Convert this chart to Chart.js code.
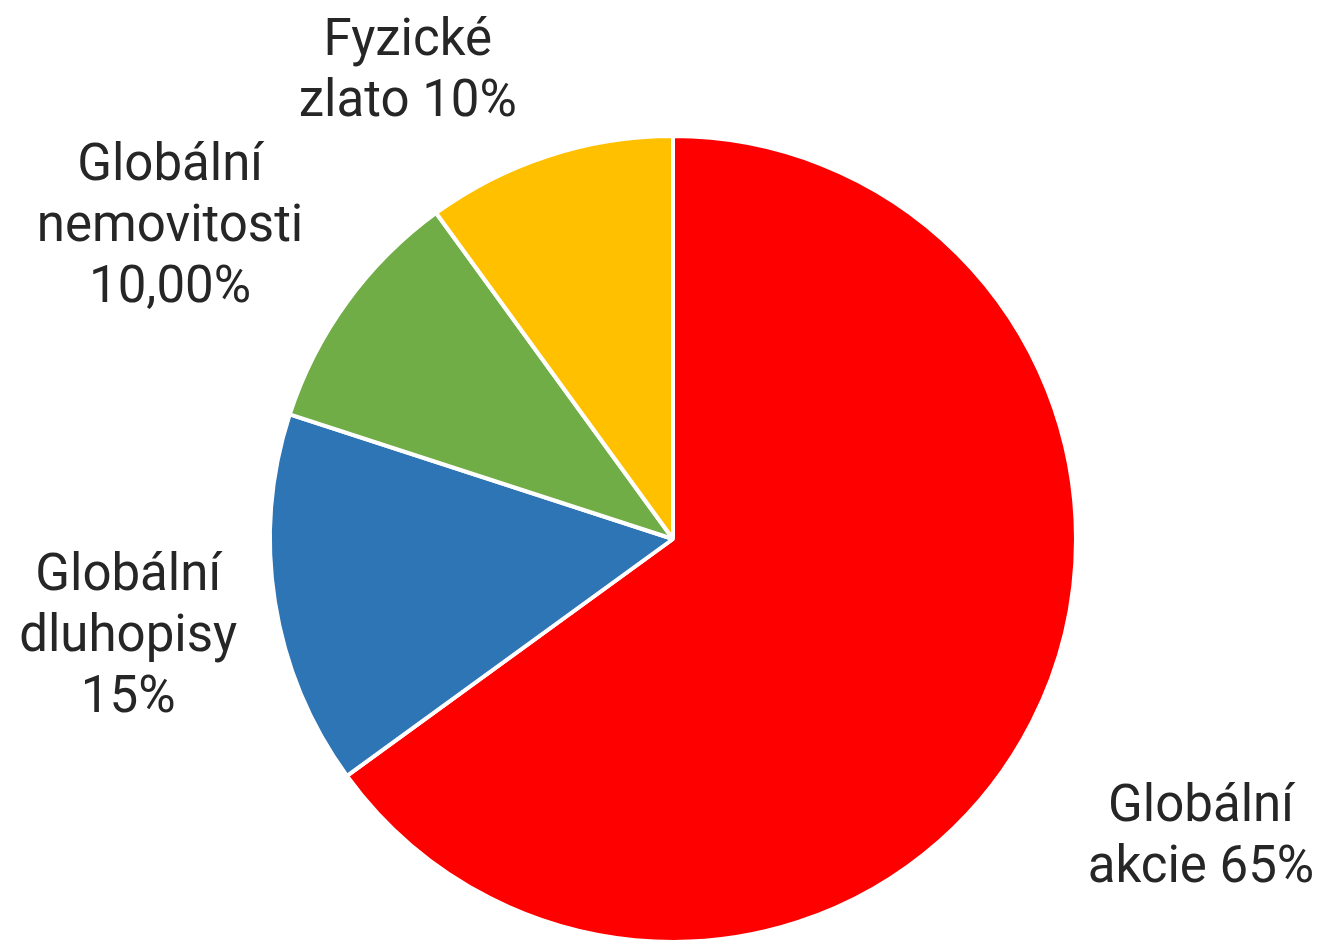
<!DOCTYPE html>
<html>
<head>
<meta charset="utf-8">
<script src="https://cdn.jsdelivr.net/npm/chart.js@4/dist/chart.umd.min.js"></script>
<style>
  html, body { margin: 0; padding: 0; background: #ffffff; overflow: hidden; }
  #wrap { width: 1324px; height: 944px; position: relative; }
</style>
</head>
<body>
<div id="wrap"><canvas id="c"></canvas></div>
<script>
// ---- data ----
const categories = ["Globální akcie", "Globální dluhopisy", "Globální nemovitosti", "Fyzické zlato"];
const shares = [65, 15, 10, 10];
const labelLines = [
  ["Globální", "akcie 65%"],
  ["Globální", "dluhopisy", "15%"],
  ["Globální", "nemovitosti", "10,00%"],
  ["Fyzické", "zlato 10%"]
];
const sliceColors = ["#FF0000", "#2E75B6", "#70AD47", "#FFC000"];

// label anchor offsets relative to pie centre, in units of the radius (first baseline)
const labelOffsets = [
  [1.310, 0.700],
  [-1.352, 0.127],
  [-1.248, -0.891],
  [-0.658, -1.201]
];

const labelPlugin = {
  id: 'sliceLabels',
  afterDraw(chart) {
    const meta = chart.getDatasetMeta(0);
    if (!meta.data.length) return;
    const arc = meta.data[0];
    const cx = arc.x, cy = arc.y, r = arc.outerRadius;
    const ctx = chart.ctx;
    ctx.save();
    ctx.font = '51px Roboto, "Liberation Sans", sans-serif';
    ctx.fillStyle = '#262626';
    ctx.textAlign = 'center';
    ctx.textBaseline = 'alphabetic';
    const lh = 61;
    labelLines.forEach((lines, i) => {
      const x = cx + labelOffsets[i][0] * r;
      const y = cy + labelOffsets[i][1] * r;
      lines.forEach((t, k) => ctx.fillText(t, x, y + k * lh));
    });
    ctx.restore();
  }
};

new Chart(document.getElementById('c'), {
  type: 'pie',
  data: {
    labels: categories,
    datasets: [{
      data: shares,
      backgroundColor: sliceColors,
      borderColor: '#ffffff',
      borderWidth: 4,
      hoverOffset: 0,
      offset: 0
    }]
  },
  options: {
    responsive: true,
    maintainAspectRatio: false,
    animation: false,
    layout: { padding: { left: 268, right: 246, top: 134, bottom: 0 } },
    plugins: {
      legend: { display: false },
      tooltip: { enabled: false },
      title: { display: false }
    }
  },
  plugins: [labelPlugin]
});
</script>
</body>
</html>
